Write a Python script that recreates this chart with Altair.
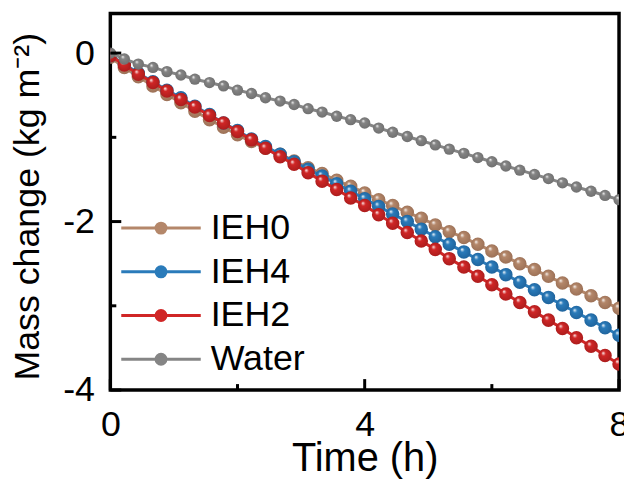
import altair as alt
import pandas as pd

FONT = "Liberation Sans"

series_names = ["IEH0", "IEH4", "IEH2", "Water"]
series_colors = ["#B4876A", "#2A7BBA", "#D02626", "#858585"]
edge_colors = ["#9A6F55", "#1F629A", "#A81C1C", "#6E6E6E"]

time_h = [0.0, 0.22, 0.44, 0.67, 0.89, 1.11, 1.33, 1.56, 1.78, 2.0, 2.22, 2.44,
          2.67, 2.89, 3.11, 3.33, 3.56, 3.78, 4.0, 4.22, 4.44, 4.67, 4.89, 5.11,
          5.33, 5.56, 5.78, 6.0, 6.22, 6.44, 6.67, 6.89, 7.11, 7.33, 7.56, 7.78, 8.0]

ieh0 = [-0.05, -0.17, -0.28, -0.39, -0.49, -0.59, -0.69, -0.79, -0.88, -0.97, -1.05, -1.13,
        -1.20, -1.28, -1.36, -1.43, -1.51, -1.58, -1.66, -1.74, -1.81, -1.89, -1.96, -2.04,
        -2.12, -2.19, -2.27, -2.35, -2.42, -2.50, -2.57, -2.65, -2.73, -2.80, -2.88, -2.96, -3.03]
ieh4 = [-0.03, -0.13, -0.24, -0.34, -0.44, -0.53, -0.63, -0.73, -0.83, -0.92, -1.02, -1.11,
        -1.20, -1.29, -1.38, -1.46, -1.55, -1.64, -1.73, -1.82, -1.91, -2.00, -2.09, -2.18,
        -2.27, -2.36, -2.45, -2.54, -2.63, -2.72, -2.81, -2.90, -2.99, -3.08, -3.17, -3.26, -3.35]
ieh2 = [-0.03, -0.14, -0.25, -0.35, -0.45, -0.55, -0.64, -0.74, -0.83, -0.93, -1.03, -1.13,
        -1.23, -1.32, -1.42, -1.52, -1.62, -1.72, -1.81, -1.92, -2.02, -2.13, -2.23, -2.33,
        -2.44, -2.54, -2.65, -2.75, -2.86, -2.96, -3.07, -3.17, -3.27, -3.38, -3.48, -3.59, -3.69]
water = [0.00, -0.07, -0.13, -0.17, -0.22, -0.26, -0.31, -0.35, -0.39, -0.44, -0.48, -0.53,
         -0.57, -0.61, -0.66, -0.70, -0.75, -0.79, -0.83, -0.89, -0.94, -0.99, -1.04, -1.09,
         -1.14, -1.19, -1.24, -1.29, -1.34, -1.39, -1.44, -1.49, -1.54, -1.59, -1.64, -1.69, -1.74]

x_major_ticks = [0, 4, 8]
x_minor_ticks = [2, 6]
y_major_ticks = [0, -2, -4]
y_minor_ticks = [-1, -3]

series_values = {"IEH0": ieh0, "IEH4": ieh4, "IEH2": ieh2, "Water": water}

rows = []
for name in series_names:
    for t, v in zip(time_h, series_values[name]):
        rows.append({"t": t, "v": v, "series": name})
df = pd.DataFrame(rows)

W, H = 512, 379
xscale = alt.Scale(domain=[0, 8], nice=False, zero=False)
yscale = alt.Scale(domain=[-4, 0.47], nice=False, zero=False)

x_axis = alt.Axis(values=x_major_ticks, ticks=False, tickSize=0, domain=False, grid=False,
                  labelFontSize=36, labelFont=FONT, labelColor="black", labelPadding=18,
                  labelFlush=False,
                  title="Time (h)", titleFontSize=40, titleFont=FONT, titleFontWeight="normal",
                  titleColor="black", titleX=256, titleY=81, titleBaseline="alphabetic",
                  titleAlign="center")
y_axis = alt.Axis(values=y_major_ticks, ticks=False, tickSize=0, domain=False, grid=False,
                  labelExpr="toString(datum.value)",
                  labelFontSize=36, labelFont=FONT, labelColor="black", labelPadding=16,
                  labelFlush=False,
                  title="Mass change (kg m⁻²)", titleFontSize=36, titleFont=FONT,
                  titleFontWeight="normal", titleColor="black", titleX=-83, titleY=194,
                  titleBaseline="middle", titleAlign="center", titleAngle=270)

X = alt.X("t:Q", scale=xscale, axis=x_axis)
Y = alt.Y("v:Q", scale=yscale, axis=y_axis)

LEG_PATH = "M-4,0H4M-0.5,0A0.5,0.5,0,1,0,0.5,0A0.5,0.5,0,1,0,-0.5,0Z"

legend = alt.Legend(
    title=None, orient="none", legendX=33, legendY=198,
    symbolType=LEG_PATH, symbolSize=400, symbolStrokeWidth=3, symbolOpacity=1,
    labelFontSize=36, labelFont=FONT, labelColor="black", labelOffset=32,
    rowPadding=8, padding=0, labelLimit=0,
)
leg_scale = alt.Scale(domain=series_names, range=series_colors)

layers = []
for name, c, ec in zip(series_names, series_colors, edge_colors):
    sub = df[df["series"] == name]
    base = alt.Chart(sub)
    line = base.mark_line(strokeWidth=3, clip=True, color=c).encode(x=X, y=Y)
    grad = alt.RadialGradient(
        gradient="radial",
        stops=[alt.GradientStop(color="#ffffff", offset=0),
               alt.GradientStop(color=c, offset=0.3),
               alt.GradientStop(color=ec, offset=1)],
        x1=0.35, y1=0.3, r1=0, x2=0.5, y2=0.5, r2=0.55,
    )
    size = 130 if name == "Water" else 185
    pts = base.mark_point(filled=True, fill=grad, size=size, opacity=1, strokeWidth=0,
                          shape="circle", clip=True).encode(x=X, y=Y)
    layers += [line, pts]

legend_layer = alt.Chart(df).mark_point(filled=True, opacity=0, size=1).encode(
    x=X, y=Y,
    fill=alt.Fill("series:N", scale=leg_scale, legend=legend),
    stroke=alt.Stroke("series:N", scale=leg_scale, legend=legend),
)

tick_x_major = alt.Chart(pd.DataFrame({"t": x_major_ticks})).mark_rule(
    strokeWidth=3, color="black").encode(x=X, y=alt.value(H), y2=alt.value(H - 11))
tick_x_minor = alt.Chart(pd.DataFrame({"t": x_minor_ticks})).mark_rule(
    strokeWidth=3, color="black").encode(x=X, y=alt.value(H), y2=alt.value(H - 6))
tick_y_major = alt.Chart(pd.DataFrame({"v": y_major_ticks})).mark_rule(
    strokeWidth=3, color="black").encode(y=Y, x=alt.value(0), x2=alt.value(11))
tick_y_minor = alt.Chart(pd.DataFrame({"v": y_minor_ticks})).mark_rule(
    strokeWidth=3, color="black").encode(y=Y, x=alt.value(0), x2=alt.value(6))

chart = alt.layer(*layers, legend_layer, tick_x_major, tick_x_minor, tick_y_major,
                  tick_y_minor).properties(
    width=W, height=H,
    padding={"left": 103, "top": 4, "right": 5, "bottom": 89},
    autosize=alt.AutoSizeParams(type="none"),
    background="white",
).configure_view(stroke="black", strokeWidth=3.5)

chart.save("out.html", embed_options={"renderer": "svg", "actions": False})
